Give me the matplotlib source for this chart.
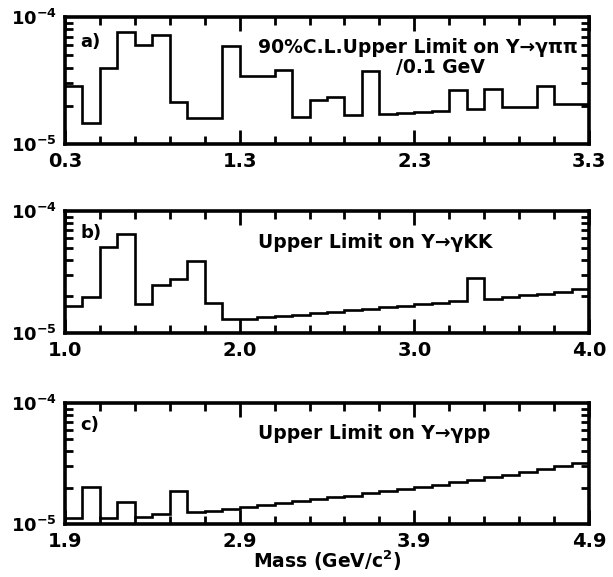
import numpy as np
import matplotlib
matplotlib.use('Agg')
import matplotlib.pyplot as plt
from matplotlib.ticker import FixedLocator, LogLocator, NullFormatter, FixedFormatter

# ---- data (upper limits in units of 1e-5, 0.1 GeV bins) ----
pipi_edges = np.round(np.arange(0.3, 3.3001, 0.1), 2)
pipi_limit = [2.88, 1.46, 3.94, 7.57, 6.02, 7.21, 2.14, 1.59, 1.59, 5.95,
              3.41, 3.41, 3.80, 1.62, 2.23, 2.34, 1.70, 3.78, 1.73, 1.74,
              1.78, 1.82, 2.65, 1.90, 2.73, 1.94, 1.96, 2.86, 2.08, 2.06]

kk_edges = np.round(np.arange(1.0, 4.0001, 0.1), 2)
kk_limit = [1.65, 1.97, 5.07, 6.44, 1.72, 2.46, 2.75, 3.92, 1.76, 1.30,
            1.30, 1.34, 1.37, 1.41, 1.45, 1.49, 1.53, 1.57, 1.62, 1.67,
            1.72, 1.77, 1.82, 2.84, 1.91, 1.96, 2.03, 2.10, 2.18, 2.30]

pp_edges = np.round(np.arange(1.9, 4.9001, 0.1), 2)
pp_limit = [1.13, 2.02, 1.13, 1.52, 1.15, 1.20, 1.86, 1.25, 1.28, 1.33,
            1.38, 1.43, 1.48, 1.54, 1.60, 1.66, 1.72, 1.79, 1.86, 1.94,
            2.02, 2.11, 2.21, 2.32, 2.44, 2.56, 2.70, 2.84, 3.00, 3.18]

pipi_ticks = ['0.3', '1.3', '2.3', '3.3']
kk_ticks = ['1.0', '2.0', '3.0', '4.0']
pp_ticks = ['1.9', '2.9', '3.9', '4.9']

panel_letters = ['a)', 'b)', 'c)']
titles = ['90%C.L.Upper Limit on \u03a5\u2192\u03b3\u03c0\u03c0',
          'Upper Limit on \u03a5\u2192\u03b3KK',
          'Upper Limit on \u03a5\u2192\u03b3pp']
xlabel = 'Mass (GeV/c$^\\mathbf{2}$)'

W, H = 613, 577
fig = plt.figure(figsize=(W / 100, H / 100), dpi=100)
plt.rcParams['font.family'] = ['DejaVu Sans']
plt.rcParams['mathtext.fontset'] = 'dejavusans'


def ax_at(left, top, right, bottom):
    return fig.add_axes([left / W, 1 - bottom / H, (right - left) / W, (bottom - top) / H])


boxes = [(65, 17, 589, 144), (65, 211, 589, 333), (65, 403, 589, 524)]
panels = [(pipi_edges, pipi_limit, pipi_ticks),
          (kk_edges, kk_limit, kk_ticks),
          (pp_edges, pp_limit, pp_ticks)]
letter_y = [0.80, 0.82, 0.82]

axes = []
for i, (box, (edges, vals, ticks)) in enumerate(zip(boxes, panels)):
    ax = ax_at(*box)
    axes.append(ax)
    ax.stairs(np.array(vals) * 1e-5, edges, baseline=None, color='black', lw=1.9)
    ax.set_yscale('log')
    ax.set_ylim(1e-5, 1e-4)
    x0, x1 = edges[0], edges[-1]
    ax.set_xlim(x0, x1)
    major = [float(t) for t in ticks]
    minor = np.round(np.arange(x0, x1 + 1e-6, 0.2), 2)
    ax.xaxis.set_major_locator(FixedLocator(major))
    ax.xaxis.set_major_formatter(FixedFormatter(ticks))
    ax.xaxis.set_minor_locator(FixedLocator(minor))
    ax.yaxis.set_major_locator(FixedLocator([1e-5, 1e-4]))
    ax.yaxis.set_major_formatter(FixedFormatter([r'$\mathbf{10^{-5}}$', r'$\mathbf{10^{-4}}$']))
    ax.yaxis.set_minor_locator(LogLocator(base=10, subs=np.arange(2, 10)))
    ax.yaxis.set_minor_formatter(NullFormatter())
    ax.tick_params(which='both', direction='in', top=True, right=True, width=2.0, color='black')
    ax.tick_params(axis='x', which='major', length=10, pad=6, labelsize=14)
    ax.tick_params(axis='x', which='minor', length=6)
    ax.tick_params(axis='y', which='major', length=0, pad=6, labelsize=13)
    ax.tick_params(axis='y', which='minor', length=6)
    for lab in ax.get_xticklabels():
        lab.set_fontweight('bold')
    for sp in ax.spines.values():
        sp.set_linewidth(2.6)
    ax.text(0.03, letter_y[i], panel_letters[i], transform=ax.transAxes, fontsize=13,
            fontweight='bold', va='center', ha='left')

axes[0].text(0.979, 0.756, titles[0], transform=axes[0].transAxes, fontsize=13.5,
             fontweight='bold', ha='right', va='center')
axes[0].text(0.717, 0.60, '/0.1 GeV', transform=axes[0].transAxes, fontsize=13.5,
             fontweight='bold', ha='center', va='center')
axes[1].text(0.368, 0.738, titles[1], transform=axes[1].transAxes, fontsize=13.5,
             fontweight='bold', ha='left', va='center')
axes[2].text(0.368, 0.75, titles[2], transform=axes[2].transAxes, fontsize=13.5,
             fontweight='bold', ha='left', va='center')

fig.text(327 / W, 1 - 561 / H, xlabel, fontsize=13.5, fontweight='bold', ha='center', va='center')

fig.savefig('out.png', dpi=100)
